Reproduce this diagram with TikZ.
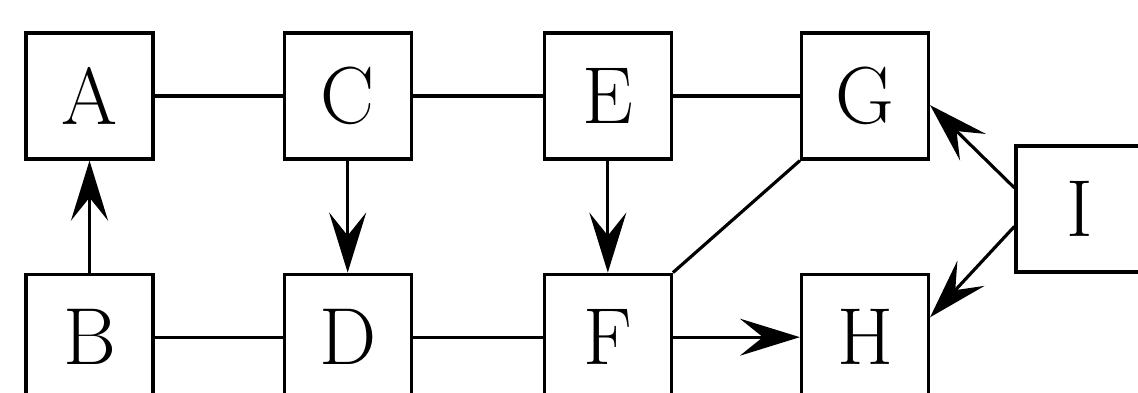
\documentclass[tikz,border=0pt]{standalone}
\usetikzlibrary{arrows.meta, positioning}
\tikzset{
  every picture/.style={line width=0.9pt},
  box/.style={draw, minimum width=1.27cm, minimum height=1.26cm, inner sep=0pt,
    font=\fontsize{23}{27}\selectfont},
  link/.style={draw},
  arrow/.style={-{Stealth[length=6mm, width=3.7mm, inset=2.3mm]}, draw},
}
\begin{document}
\begin{tikzpicture}
  \useasboundingbox (0,0) rectangle (11.38,3.92);
  \clip (0,0) rectangle (11.38,3.92);
  % top row
  \node[box] (A) at (0.895,2.96) {A};
  \node[box, right=1.28cm of A] (C) {C};
  \node[box, right=1.30cm of C] (E) {E};
  \node[box, right=1.27cm of E] (G) {G};
  % bottom row
  \node[box, below=1.12cm of A] (B) {B};
  \node[box, below=1.12cm of C] (D) {D};
  \node[box, below=1.12cm of E] (F) {F};
  \node[box, below=1.12cm of G] (H) {H};
  \node[box] (I) at (10.795,1.83) {I};
  % plain links
  \draw[link] (A) -- (C);
  \draw[link] (C) -- (E);
  \draw[link] (E) -- (G);
  \draw[link] (B) -- (D);
  \draw[link] (D) -- (F);
  \draw[link] (F.north east) -- (G.south west);
  % arrows
  \draw[arrow] (B) -- (A);
  \draw[arrow] (C) -- (D);
  \draw[arrow] (E) -- (F);
  \draw[arrow] (F) -- (H);
  \draw[arrow] (I.162) -- (G.-8);
  \draw[arrow] (I.195) -- (H.17);
\end{tikzpicture}
\end{document}
